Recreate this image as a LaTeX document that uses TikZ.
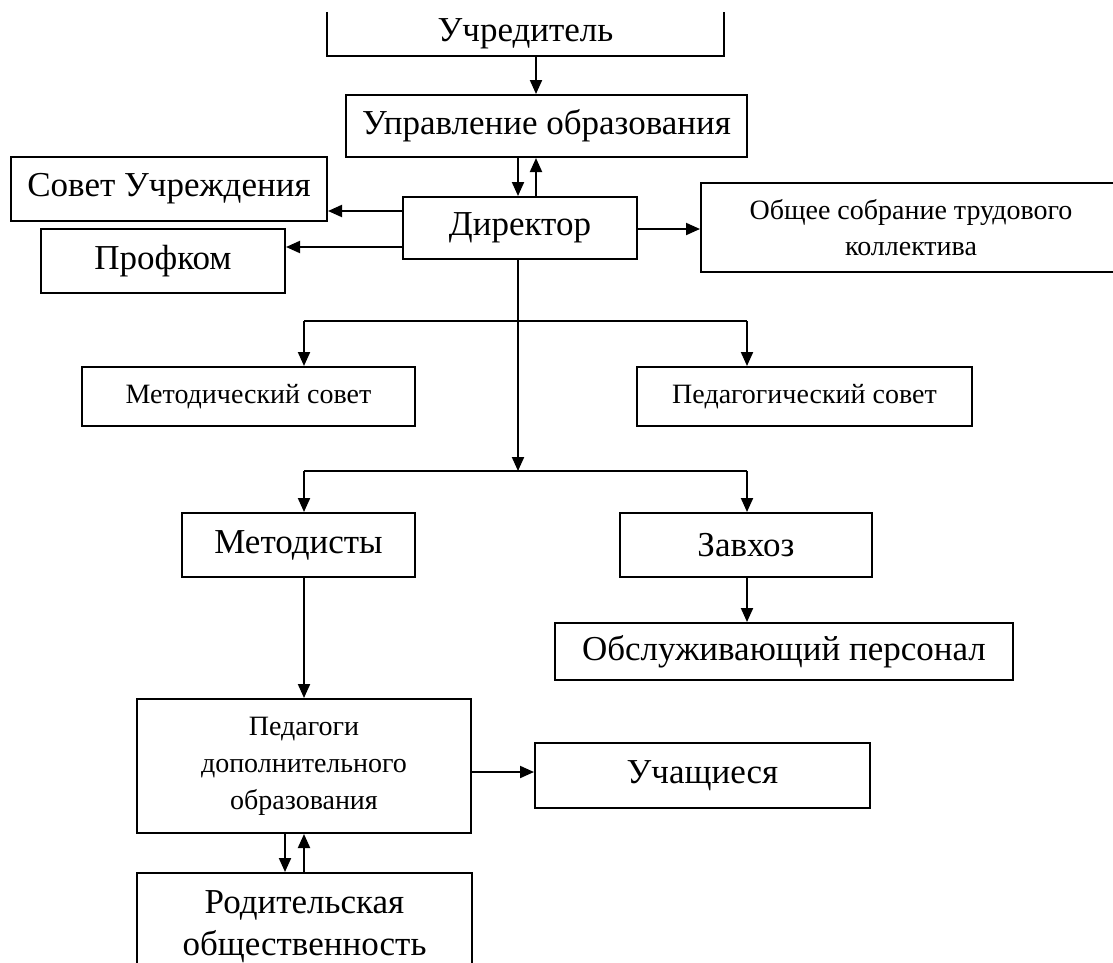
\documentclass[tikz,border=0pt]{standalone}
\usepackage{fontspec}
\setmainfont{Liberation Serif}
\usetikzlibrary{arrows.meta,calc}
\begin{document}
\begin{tikzpicture}[x=1pt,y=-1pt,
 box/.style={draw,line width=2pt,inner sep=0pt,align=center},
 big/.style={font=\fontsize{35}{42}\selectfont},
 small/.style={font=\fontsize{28}{37}\selectfont},
 arr/.style={line width=2pt,-{Triangle[length=14pt,width=12pt]}},
 ln/.style={line width=2pt}]
\useasboundingbox (0,0) rectangle (1113,962);
% nodes
\node[inner sep=0pt,big,minimum width=397pt,minimum height=44pt] (uch) at (525.5,34) {Учредитель};
\draw[line width=2pt] (uch.north west) -- (uch.south west) -- (uch.south east) -- (uch.north east);
\node[box,big,minimum width=401pt,minimum height=62pt] (upr) at (546.5,126) {Управление образования};
\node[box,big,minimum width=316pt,minimum height=64pt] (sov) at (169,189) {Совет Учреждения};
\node[box,big,minimum width=234pt,minimum height=62pt] (dir) at (520,228) {Директор};
\node[box,big,minimum width=244pt,minimum height=64pt] (prof) at (163,261) {Профком};
\node[box,small,minimum width=420pt,minimum height=89pt,font=\fontsize{28}{36}\selectfont] (obs) at (911,227.5) {Общее собрание трудового\\коллектива};
\node[box,small,minimum width=333pt,minimum height=59pt] (mets) at (248.5,396.5) {Методический совет};
\node[box,small,minimum width=335pt,minimum height=59pt] (peds) at (804.5,396.5) {Педагогический совет};
\node[box,big,minimum width=233pt,minimum height=64pt] (metod) at (298.5,545) {Методисты};
\node[box,big,minimum width=252pt,minimum height=64pt] (zav) at (746,545) {Завхоз};
\node[box,big,minimum width=458pt,minimum height=57pt] (obsl) at (784,651.5) {Обслуживающий персонал};
\node[box,small,minimum width=334pt,minimum height=134pt] (ped) at (304,766) {Педагоги\\дополнительного\\образования};
\node[box,big,minimum width=335pt,minimum height=65pt] (uchs) at (702.5,775.5) {Учащиеся};
\node[box,big,minimum width=335pt,minimum height=108pt] (rod) at (304.5,927) {Родительская\\общественность};
% helper coordinates
\coordinate (xa) at (518,0);
\coordinate (xb) at (536,0);
\coordinate (xl) at (304,0);
\coordinate (xr) at (747,0);
\coordinate (xp) at (285,0);
\coordinate (j2) at (518,471);
\coordinate (j1l) at (304,321);
\coordinate (j1r) at (747,321);
\coordinate (j2l) at (304,471);
\coordinate (j2r) at (747,471);
% connectors
\draw[arr] (uch.south -| xb) -- (upr.north -| xb);
\draw[arr] (upr.south -| xa) -- (dir.north -| xa);
\draw[arr] (dir.north -| xb) -- (upr.south -| xb);
\draw[arr] (dir.west |- 0,211) -- (sov.east |- 0,211);
\draw[arr] (dir.west |- 0,247) -- (prof.east |- 0,247);
\draw[arr] (dir.east |- 0,229) -- (obs.west |- 0,229);
\draw[arr] (dir.south -| xa) -- (j2);
\draw[ln] (j1l) -- (j1r);
\draw[arr] (j1l) -- (mets.north -| xl);
\draw[arr] (j1r) -- (peds.north -| xr);
\draw[ln] (j2l) -- (j2r);
\draw[arr] (j2l) -- (metod.north -| xl);
\draw[arr] (j2r) -- (zav.north -| xr);
\draw[arr] (zav.south -| xr) -- (obsl.north -| xr);
\draw[arr] (metod.south -| xl) -- (ped.north -| xl);
\draw[arr] (ped.east |- 0,772) -- (uchs.west |- 0,772);
\draw[arr] (ped.south -| xp) -- (rod.north -| xp);
\draw[arr] (rod.north -| xl) -- (ped.south -| xl);
\end{tikzpicture}
\end{document}
